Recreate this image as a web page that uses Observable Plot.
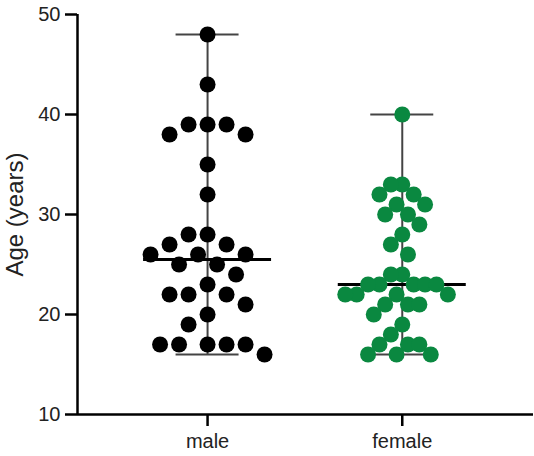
<!DOCTYPE html>
<html>
<head>
<meta charset="utf-8">
<script src="https://cdn.jsdelivr.net/npm/d3@7"></script>
<script src="https://cdn.jsdelivr.net/npm/@observablehq/plot@0.6"></script>
<style>
  html, body { margin: 0; padding: 0; background: #fff; }
  #chart { width: 534px; height: 456px; }
</style>
</head>
<body>
<div id="chart"></div>
<script>
// ---- data ----
const groups = ["male", "female"];
const maleAges = [48, 43, 39, 39, 39, 38, 38, 35, 32, 28, 28, 27, 27, 26, 26, 26, 25, 25, 24, 23, 22, 22, 22, 21, 20, 19, 17, 17, 17, 17, 17, 16];
const femaleAges = [40, 33, 33, 32, 32, 31, 31, 30, 30, 29, 28, 27, 26, 24, 24, 23, 23, 23, 23, 23, 22, 22, 22, 22, 21, 21, 21, 20, 19, 18, 17, 17, 17, 16, 16, 16];
const yTicks = [10, 20, 30, 40, 50];
const yDomain = [10, 50];

// ---- layout ----
const W = 534, H = 456;
const mL = 77, mR = 1, mT = 14, mB = 42;
const xDomain = [-0.668, 1.674];
const xs = d3.scaleLinear().domain(xDomain).range([mL, W - mR]);
const ys = d3.scaleLinear().domain(yDomain).range([H - mB, mT]);
const pxPerUnit = xs(1) - xs(0);
const pxPerYear = ys(0) - ys(1);

// scatter-dot arrangement: greedy placement on a half-step grid, points avoid overlapping
function arrange(vals) {
  const g = 11.25, D = 21, limit = 57;
  const order = d3.range(vals.length).sort((a, b) => vals[b] - vals[a] || a - b);
  const cands = [0];
  for (let k = 1; k <= 12; k++) cands.push(-k, k);
  const placed = [];
  const off = new Array(vals.length).fill(0);
  for (const i of order) {
    const y = vals[i] * pxPerYear;
    for (const k of cands) {
      const x = k * g;
      if (placed.every(p => (p.x - x) ** 2 + (p.y - y) ** 2 >= D * D)) {
        off[i] = x; placed.push({x, y}); break;
      }
    }
  }
  const maxAbs = d3.max(off, Math.abs) || 1;
  const s = maxAbs > limit ? limit / maxAbs : 1;
  return off.map(x => x * s / pxPerUnit);
}

const series = [maleAges, femaleAges];
const data = series.flatMap((vals, gi) => {
  const off = arrange(vals);
  return vals.map((v, i) => ({group: groups[gi], gi, age: v, off: off[i]}));
});
const stats = series.map((vals, gi) => ({
  gi, min: d3.min(vals), max: d3.max(vals), median: d3.median(vals)
}));
const capHalf = 31.5 / pxPerUnit;
const medHalf = 64 / pxPerUnit;

const font = "Arial, 'Liberation Sans', Helvetica, sans-serif";

const chart = Plot.plot({
  width: W, height: H,
  marginLeft: mL, marginRight: mR, marginTop: mT, marginBottom: mB,
  x: {domain: xDomain, axis: null},
  y: {domain: yDomain, axis: null},
  color: {domain: groups, range: ["#000000", "#0a8840"]},
  style: {fontFamily: font, background: "#fff", color: "#222", overflow: "visible"},
  marks: [
    Plot.ruleY([yDomain[0]], {stroke: "#000", strokeWidth: 2.5}),
    Plot.ruleX([xDomain[0]], {y1: yDomain[0], y2: yDomain[1], stroke: "#000", strokeWidth: 2.5}),
    Plot.axisY({ticks: yTicks, tickSize: 12, tickPadding: 5, fontSize: 20, stroke: "#000", strokeWidth: 2.5, fill: "#222", label: null}),
    Plot.axisX({ticks: [0, 1], tickFormat: i => groups[i], tickSize: 12, tickPadding: 7, fontSize: 20, stroke: "#000", strokeWidth: 2.5, fill: "#222", label: null}),
    Plot.text(["Age (years)"], {frameAnchor: "left", textAnchor: "middle", rotate: -90, dx: -62, fontSize: 24, fill: "#222"}),
    Plot.ruleX(stats, {x: "gi", y1: "min", y2: "max", stroke: "#444", strokeWidth: 2}),
    Plot.ruleY(stats, {y: "min", x1: d => d.gi - capHalf, x2: d => d.gi + capHalf, stroke: "#444", strokeWidth: 2}),
    Plot.ruleY(stats, {y: "max", x1: d => d.gi - capHalf, x2: d => d.gi + capHalf, stroke: "#444", strokeWidth: 2}),
    Plot.ruleY(stats, {y: "median", x1: d => d.gi - medHalf, x2: d => d.gi + medHalf, stroke: "#000", strokeWidth: 3}),
    Plot.dot(data, {x: d => d.gi + d.off, y: "age", r: 8, fill: "group", stroke: "none"})
  ]
});
document.getElementById("chart").append(chart);
</script>
</body>
</html>
